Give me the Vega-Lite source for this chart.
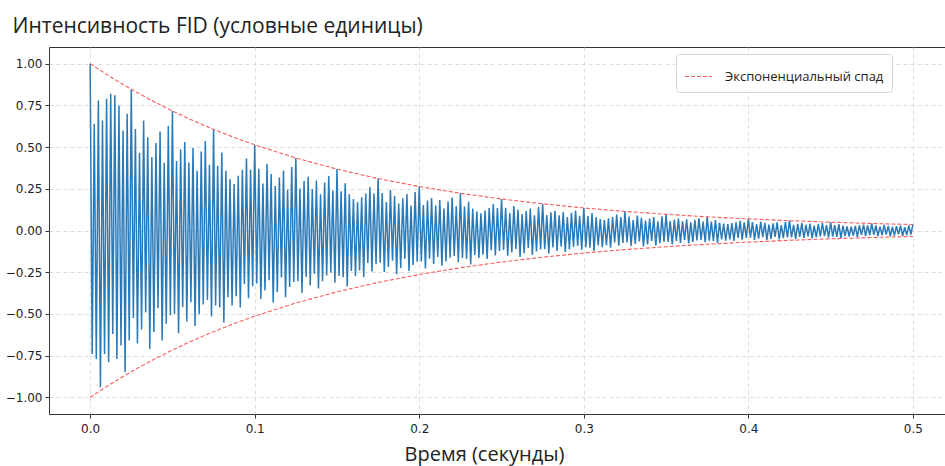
{
"$schema": "https://vega.github.io/schema/vega-lite/v6.json",
"width": 896,
"height": 367,
"autosize": {"type": "none"},
"padding": {"left": 49, "top": 47, "right": 0, "bottom": 52},
"background": "white",
"config": {
  "view": {"stroke": "#333", "strokeWidth": 1},
  "axis": {"domain": false, "grid": true, "gridColor": "#d6d6d6", "gridDash": [4, 3], "gridWidth": 0.8, "tickColor": "#333", "tickSize": 4, "labelFont": "DejaVu Sans", "labelFontSize": 12, "labelColor": "#222", "titleFont": "Open Sans", "titleFontWeight": "normal", "titleColor": "#222"}
},
"layer": [
{
  "data": {"values": [
{"t":0,"v":1.0},{"t":0.00125,"v":-0.74},{"t":0.0025,"v":0.64},{"t":0.00375,"v":-0.77},{"t":0.005,"v":0.78},{"t":0.00625,"v":-0.94},{"t":0.0075,"v":0.66},{"t":0.00875,"v":-0.74},{"t":0.01,"v":0.79},{"t":0.01125,"v":-0.79},{"t":0.0125,"v":0.82},{"t":0.01375,"v":-0.62},{"t":0.015,"v":0.81},{"t":0.01625,"v":-0.77},{"t":0.0175,"v":0.75},{"t":0.01875,"v":-0.69},{"t":0.02,"v":0.60},{"t":0.02125,"v":-0.85},{"t":0.0225,"v":0.70},{"t":0.02375,"v":-0.66},
{"t":0.025,"v":0.847},{"t":0.02625,"v":-0.525},{"t":0.0275,"v":0.609},{"t":0.02875,"v":-0.677},{"t":0.03,"v":0.466},{"t":0.03125,"v":-0.593},{"t":0.0325,"v":0.660},{"t":0.03375,"v":-0.491},{"t":0.035,"v":0.559},{"t":0.03625,"v":-0.711},{"t":0.0375,"v":0.440},{"t":0.03875,"v":-0.609},{"t":0.04,"v":0.525},{"t":0.04125,"v":-0.466},{"t":0.0425,"v":0.593},{"t":0.04375,"v":-0.660},{"t":0.045,"v":0.406},{"t":0.04625,"v":-0.559},{"t":0.0475,"v":0.626},{"t":0.04875,"v":-0.508},
{"t":0.05,"v":0.717},{"t":0.05125,"v":-0.502},{"t":0.0525,"v":0.416},{"t":0.05375,"v":-0.616},{"t":0.055,"v":0.487},{"t":0.05625,"v":-0.459},{"t":0.0575,"v":0.530},{"t":0.05875,"v":-0.545},{"t":0.06,"v":0.408},{"t":0.06125,"v":-0.430},{"t":0.0625,"v":0.494},{"t":0.06375,"v":-0.573},{"t":0.065,"v":0.358},{"t":0.06625,"v":-0.502},{"t":0.0675,"v":0.473},{"t":0.06875,"v":-0.444},{"t":0.07,"v":0.537},{"t":0.07125,"v":-0.416},{"t":0.0725,"v":0.394},{"t":0.07375,"v":-0.516},
{"t":0.075,"v":0.607},{"t":0.07625,"v":-0.449},{"t":0.0775,"v":0.388},{"t":0.07875,"v":-0.461},{"t":0.08,"v":0.467},{"t":0.08125,"v":-0.552},{"t":0.0825,"v":0.358},{"t":0.08375,"v":-0.400},{"t":0.085,"v":0.309},{"t":0.08625,"v":-0.449},{"t":0.0875,"v":0.279},{"t":0.08875,"v":-0.394},{"t":0.09,"v":0.328},{"t":0.09125,"v":-0.461},{"t":0.0925,"v":0.364},{"t":0.09375,"v":-0.321},{"t":0.095,"v":0.431},{"t":0.09625,"v":-0.406},{"t":0.0975,"v":0.364},{"t":0.09875,"v":-0.334},
{"t":0.1,"v":0.513},{"t":0.10125,"v":-0.318},{"t":0.1025,"v":0.370},{"t":0.10375,"v":-0.411},{"t":0.105,"v":0.282},{"t":0.10625,"v":-0.359},{"t":0.1075,"v":0.400},{"t":0.10875,"v":-0.298},{"t":0.11,"v":0.339},{"t":0.11125,"v":-0.431},{"t":0.1125,"v":0.267},{"t":0.11375,"v":-0.370},{"t":0.115,"v":0.318},{"t":0.11625,"v":-0.282},{"t":0.1175,"v":0.359},{"t":0.11875,"v":-0.400},{"t":0.12,"v":0.246},{"t":0.12125,"v":-0.339},{"t":0.1225,"v":0.380},{"t":0.12375,"v":-0.308},
{"t":0.125,"v":0.435},{"t":0.12625,"v":-0.304},{"t":0.1275,"v":0.252},{"t":0.12875,"v":-0.374},{"t":0.13,"v":0.296},{"t":0.13125,"v":-0.278},{"t":0.1325,"v":0.322},{"t":0.13375,"v":-0.330},{"t":0.135,"v":0.248},{"t":0.13625,"v":-0.261},{"t":0.1375,"v":0.300},{"t":0.13875,"v":-0.348},{"t":0.14,"v":0.217},{"t":0.14125,"v":-0.304},{"t":0.1425,"v":0.287},{"t":0.14375,"v":-0.269},{"t":0.145,"v":0.326},{"t":0.14625,"v":-0.252},{"t":0.1475,"v":0.239},{"t":0.14875,"v":-0.313},
{"t":0.15,"v":0.368},{"t":0.15125,"v":-0.272},{"t":0.1525,"v":0.235},{"t":0.15375,"v":-0.280},{"t":0.155,"v":0.283},{"t":0.15625,"v":-0.335},{"t":0.1575,"v":0.217},{"t":0.15875,"v":-0.243},{"t":0.16,"v":0.188},{"t":0.16125,"v":-0.272},{"t":0.1625,"v":0.169},{"t":0.16375,"v":-0.239},{"t":0.165,"v":0.199},{"t":0.16625,"v":-0.280},{"t":0.1675,"v":0.221},{"t":0.16875,"v":-0.195},{"t":0.17,"v":0.261},{"t":0.17125,"v":-0.246},{"t":0.1725,"v":0.221},{"t":0.17375,"v":-0.202},
{"t":0.175,"v":0.311},{"t":0.17625,"v":-0.193},{"t":0.1775,"v":0.224},{"t":0.17875,"v":-0.249},{"t":0.18,"v":0.171},{"t":0.18125,"v":-0.218},{"t":0.1825,"v":0.243},{"t":0.18375,"v":-0.181},{"t":0.185,"v":0.206},{"t":0.18625,"v":-0.262},{"t":0.1875,"v":0.162},{"t":0.18875,"v":-0.224},{"t":0.19,"v":0.193},{"t":0.19125,"v":-0.171},{"t":0.1925,"v":0.218},{"t":0.19375,"v":-0.243},{"t":0.195,"v":0.149},{"t":0.19625,"v":-0.206},{"t":0.1975,"v":0.230},{"t":0.19875,"v":-0.187},
{"t":0.2,"v":0.264},{"t":0.20125,"v":-0.185},{"t":0.2025,"v":0.153},{"t":0.20375,"v":-0.227},{"t":0.205,"v":0.179},{"t":0.20625,"v":-0.169},{"t":0.2075,"v":0.195},{"t":0.20875,"v":-0.200},{"t":0.21,"v":0.150},{"t":0.21125,"v":-0.158},{"t":0.2125,"v":0.182},{"t":0.21375,"v":-0.211},{"t":0.215,"v":0.132},{"t":0.21625,"v":-0.185},{"t":0.2175,"v":0.174},{"t":0.21875,"v":-0.163},{"t":0.22,"v":0.198},{"t":0.22125,"v":-0.153},{"t":0.2225,"v":0.145},{"t":0.22375,"v":-0.190},
{"t":0.225,"v":0.223},{"t":0.22625,"v":-0.165},{"t":0.2275,"v":0.143},{"t":0.22875,"v":-0.170},{"t":0.23,"v":0.172},{"t":0.23125,"v":-0.203},{"t":0.2325,"v":0.132},{"t":0.23375,"v":-0.147},{"t":0.235,"v":0.114},{"t":0.23625,"v":-0.165},{"t":0.2375,"v":0.103},{"t":0.23875,"v":-0.145},{"t":0.24,"v":0.120},{"t":0.24125,"v":-0.170},{"t":0.2425,"v":0.134},{"t":0.24375,"v":-0.118},{"t":0.245,"v":0.158},{"t":0.24625,"v":-0.149},{"t":0.2475,"v":0.134},{"t":0.24875,"v":-0.123},
{"t":0.25,"v":0.189},{"t":0.25125,"v":-0.117},{"t":0.2525,"v":0.136},{"t":0.25375,"v":-0.151},{"t":0.255,"v":0.104},{"t":0.25625,"v":-0.132},{"t":0.2575,"v":0.147},{"t":0.25875,"v":-0.110},{"t":0.26,"v":0.125},{"t":0.26125,"v":-0.159},{"t":0.2625,"v":0.098},{"t":0.26375,"v":-0.136},{"t":0.265,"v":0.117},{"t":0.26625,"v":-0.104},{"t":0.2675,"v":0.132},{"t":0.26875,"v":-0.147},{"t":0.27,"v":0.091},{"t":0.27125,"v":-0.125},{"t":0.2725,"v":0.140},{"t":0.27375,"v":-0.113},
{"t":0.275,"v":0.160},{"t":0.27625,"v":-0.112},{"t":0.2775,"v":0.093},{"t":0.27875,"v":-0.138},{"t":0.28,"v":0.109},{"t":0.28125,"v":-0.102},{"t":0.2825,"v":0.118},{"t":0.28375,"v":-0.122},{"t":0.285,"v":0.091},{"t":0.28625,"v":-0.096},{"t":0.2875,"v":0.110},{"t":0.28875,"v":-0.128},{"t":0.29,"v":0.080},{"t":0.29125,"v":-0.112},{"t":0.2925,"v":0.106},{"t":0.29375,"v":-0.099},{"t":0.295,"v":0.120},{"t":0.29625,"v":-0.093},{"t":0.2975,"v":0.088},{"t":0.29875,"v":-0.115},
{"t":0.3,"v":0.135},{"t":0.30125,"v":-0.100},{"t":0.3025,"v":0.087},{"t":0.30375,"v":-0.103},{"t":0.305,"v":0.104},{"t":0.30625,"v":-0.123},{"t":0.3075,"v":0.080},{"t":0.30875,"v":-0.089},{"t":0.31,"v":0.069},{"t":0.31125,"v":-0.100},{"t":0.3125,"v":0.062},{"t":0.31375,"v":-0.088},{"t":0.315,"v":0.073},{"t":0.31625,"v":-0.103},{"t":0.3175,"v":0.081},{"t":0.31875,"v":-0.072},{"t":0.32,"v":0.096},{"t":0.32125,"v":-0.091},{"t":0.3225,"v":0.081},{"t":0.32375,"v":-0.074},
{"t":0.325,"v":0.115},{"t":0.32625,"v":-0.071},{"t":0.3275,"v":0.083},{"t":0.32875,"v":-0.092},{"t":0.33,"v":0.063},{"t":0.33125,"v":-0.080},{"t":0.3325,"v":0.089},{"t":0.33375,"v":-0.066},{"t":0.335,"v":0.076},{"t":0.33625,"v":-0.096},{"t":0.3375,"v":0.060},{"t":0.33875,"v":-0.083},{"t":0.34,"v":0.071},{"t":0.34125,"v":-0.063},{"t":0.3425,"v":0.080},{"t":0.34375,"v":-0.089},{"t":0.345,"v":0.055},{"t":0.34625,"v":-0.076},{"t":0.3475,"v":0.085},{"t":0.34875,"v":-0.069},
{"t":0.35,"v":0.097},{"t":0.35125,"v":-0.068},{"t":0.3525,"v":0.056},{"t":0.35375,"v":-0.083},{"t":0.355,"v":0.066},{"t":0.35625,"v":-0.062},{"t":0.3575,"v":0.072},{"t":0.35875,"v":-0.074},{"t":0.36,"v":0.055},{"t":0.36125,"v":-0.058},{"t":0.3625,"v":0.067},{"t":0.36375,"v":-0.078},{"t":0.365,"v":0.049},{"t":0.36625,"v":-0.068},{"t":0.3675,"v":0.064},{"t":0.36875,"v":-0.060},{"t":0.37,"v":0.073},{"t":0.37125,"v":-0.056},{"t":0.3725,"v":0.053},{"t":0.37375,"v":-0.070},
{"t":0.375,"v":0.082},{"t":0.37625,"v":-0.061},{"t":0.3775,"v":0.053},{"t":0.37875,"v":-0.062},{"t":0.38,"v":0.063},{"t":0.38125,"v":-0.075},{"t":0.3825,"v":0.048},{"t":0.38375,"v":-0.054},{"t":0.385,"v":0.042},{"t":0.38625,"v":-0.061},{"t":0.3875,"v":0.038},{"t":0.38875,"v":-0.053},{"t":0.39,"v":0.044},{"t":0.39125,"v":-0.062},{"t":0.3925,"v":0.049},{"t":0.39375,"v":-0.044},{"t":0.395,"v":0.058},{"t":0.39625,"v":-0.055},{"t":0.3975,"v":0.049},{"t":0.39875,"v":-0.045},
{"t":0.4,"v":0.070},{"t":0.40125,"v":-0.043},{"t":0.4025,"v":0.050},{"t":0.40375,"v":-0.056},{"t":0.405,"v":0.038},{"t":0.40625,"v":-0.049},{"t":0.4075,"v":0.054},{"t":0.40875,"v":-0.040},{"t":0.41,"v":0.046},{"t":0.41125,"v":-0.058},{"t":0.4125,"v":0.036},{"t":0.41375,"v":-0.050},{"t":0.415,"v":0.043},{"t":0.41625,"v":-0.038},{"t":0.4175,"v":0.049},{"t":0.41875,"v":-0.054},{"t":0.42,"v":0.033},{"t":0.42125,"v":-0.046},{"t":0.4225,"v":0.051},{"t":0.42375,"v":-0.042},
{"t":0.425,"v":0.059},{"t":0.42625,"v":-0.041},{"t":0.4275,"v":0.034},{"t":0.42875,"v":-0.051},{"t":0.43,"v":0.040},{"t":0.43125,"v":-0.038},{"t":0.4325,"v":0.044},{"t":0.43375,"v":-0.045},{"t":0.435,"v":0.034},{"t":0.43625,"v":-0.035},{"t":0.4375,"v":0.041},{"t":0.43875,"v":-0.047},{"t":0.44,"v":0.029},{"t":0.44125,"v":-0.041},{"t":0.4425,"v":0.039},{"t":0.44375,"v":-0.036},{"t":0.445,"v":0.044},{"t":0.44625,"v":-0.034},{"t":0.4475,"v":0.032},{"t":0.44875,"v":-0.042},
{"t":0.45,"v":0.050},{"t":0.45125,"v":-0.037},{"t":0.4525,"v":0.032},{"t":0.45375,"v":-0.038},{"t":0.455,"v":0.038},{"t":0.45625,"v":-0.045},{"t":0.4575,"v":0.029},{"t":0.45875,"v":-0.033},{"t":0.46,"v":0.025},{"t":0.46125,"v":-0.037},{"t":0.4625,"v":0.023},{"t":0.46375,"v":-0.032},{"t":0.465,"v":0.027},{"t":0.46625,"v":-0.038},{"t":0.4675,"v":0.030},{"t":0.46875,"v":-0.026},{"t":0.47,"v":0.035},{"t":0.47125,"v":-0.033},{"t":0.4725,"v":0.030},{"t":0.47375,"v":-0.027},
{"t":0.475,"v":0.042},{"t":0.47625,"v":-0.026},{"t":0.4775,"v":0.030},{"t":0.47875,"v":-0.034},{"t":0.48,"v":0.023},{"t":0.48125,"v":-0.029},{"t":0.4825,"v":0.033},{"t":0.48375,"v":-0.024},{"t":0.485,"v":0.028},{"t":0.48625,"v":-0.035},{"t":0.4875,"v":0.022},{"t":0.48875,"v":-0.030},{"t":0.49,"v":0.026},{"t":0.49125,"v":-0.023},{"t":0.4925,"v":0.029},{"t":0.49375,"v":-0.033},{"t":0.495,"v":0.020},{"t":0.49625,"v":-0.028},{"t":0.4975,"v":0.031},{"t":0.49875,"v":-0.025},
{"t":0.5,"v":0.036}
  ]},
  "mark": {"type": "line", "color": "#2a7ab8", "strokeWidth": 1.5, "clip": true},
  "encoding": {
    "x": {"field": "t", "type": "quantitative", "scale": {"domain": [-0.025, 0.5195], "nice": false, "zero": false},
      "axis": {"values": [0, 0.1, 0.2, 0.3, 0.4, 0.5], "format": ".1f", "labelPadding": 5, "title": "Время (секунды)", "titleFontSize": 20, "titleX": 435, "titleY": 46, "titleAlign": "center", "titleBaseline": "alphabetic"}},
    "y": {"field": "v", "type": "quantitative", "scale": {"domain": [-1.1, 1.1], "nice": false, "zero": false},
      "axis": {"values": [-1, -0.75, -0.5, -0.25, 0, 0.25, 0.5, 0.75, 1], "format": ".2f", "labelPadding": 3, "title": "Интенсивность FID (условные единицы)", "titleAngle": 0, "titleAlign": "left", "titleBaseline": "alphabetic", "titleX": -37, "titleY": -15, "titleFontSize": 21}}
  }
},
{
  "data": {"values": [
{"t":0,"e":1.0,"side":"upper"},{"t":0.0125,"e":0.920,"side":"upper"},{"t":0.025,"e":0.8465,"side":"upper"},{"t":0.0375,"e":0.7788,"side":"upper"},{"t":0.05,"e":0.7165,"side":"upper"},{"t":0.0625,"e":0.6592,"side":"upper"},{"t":0.075,"e":0.6065,"side":"upper"},{"t":0.0875,"e":0.558,"side":"upper"},{"t":0.1,"e":0.5134,"side":"upper"},{"t":0.125,"e":0.4346,"side":"upper"},{"t":0.15,"e":0.3679,"side":"upper"},{"t":0.175,"e":0.3114,"side":"upper"},{"t":0.2,"e":0.2636,"side":"upper"},{"t":0.225,"e":0.2231,"side":"upper"},{"t":0.25,"e":0.1889,"side":"upper"},{"t":0.275,"e":0.1599,"side":"upper"},{"t":0.3,"e":0.1353,"side":"upper"},{"t":0.325,"e":0.1146,"side":"upper"},{"t":0.35,"e":0.097,"side":"upper"},{"t":0.375,"e":0.0821,"side":"upper"},{"t":0.4,"e":0.0695,"side":"upper"},{"t":0.425,"e":0.0588,"side":"upper"},{"t":0.45,"e":0.0498,"side":"upper"},{"t":0.475,"e":0.0421,"side":"upper"},{"t":0.5,"e":0.0357,"side":"upper"},
{"t":0,"e":-1.0,"side":"lower"},{"t":0.0125,"e":-0.920,"side":"lower"},{"t":0.025,"e":-0.8465,"side":"lower"},{"t":0.0375,"e":-0.7788,"side":"lower"},{"t":0.05,"e":-0.7165,"side":"lower"},{"t":0.0625,"e":-0.6592,"side":"lower"},{"t":0.075,"e":-0.6065,"side":"lower"},{"t":0.0875,"e":-0.558,"side":"lower"},{"t":0.1,"e":-0.5134,"side":"lower"},{"t":0.125,"e":-0.4346,"side":"lower"},{"t":0.15,"e":-0.3679,"side":"lower"},{"t":0.175,"e":-0.3114,"side":"lower"},{"t":0.2,"e":-0.2636,"side":"lower"},{"t":0.225,"e":-0.2231,"side":"lower"},{"t":0.25,"e":-0.1889,"side":"lower"},{"t":0.275,"e":-0.1599,"side":"lower"},{"t":0.3,"e":-0.1353,"side":"lower"},{"t":0.325,"e":-0.1146,"side":"lower"},{"t":0.35,"e":-0.097,"side":"lower"},{"t":0.375,"e":-0.0821,"side":"lower"},{"t":0.4,"e":-0.0695,"side":"lower"},{"t":0.425,"e":-0.0588,"side":"lower"},{"t":0.45,"e":-0.0498,"side":"lower"},{"t":0.475,"e":-0.0421,"side":"lower"},{"t":0.5,"e":-0.0357,"side":"lower"}
  ]},
  "mark": {"type": "line", "strokeDash": [4, 2], "strokeWidth": 1.1, "clip": true},
  "encoding": {
    "x": {"field": "t", "type": "quantitative"},
    "y": {"field": "e", "type": "quantitative"},
    "detail": {"field": "side", "type": "nominal"},
    "color": {"datum": "Экспоненциальный спад", "type": "nominal", "scale": {"range": ["#f55d5d"]},
      "legend": {"title": null, "orient": "none", "legendX": 627, "legendY": 7, "symbolType": "stroke", "symbolSize": 729, "symbolStrokeWidth": 1.1, "symbolDash": [4, 2], "labelFont": "Open Sans", "labelFontSize": 13, "labelColor": "#222", "labelOffset": 12, "labelLimit": 400, "padding": 8, "strokeColor": "#d5d5d5", "fillColor": "white", "cornerRadius": 3, "labelExpr": "datum.label + '\u00a0\u00a0\u00a0\u00a0\u00a0\u00a0\u00a0\u00a0\u00a0\u00a0\u00a0\u00a0\u00a0\u00a0\u00a0\u00a0'"}}
  }
}
]
}
